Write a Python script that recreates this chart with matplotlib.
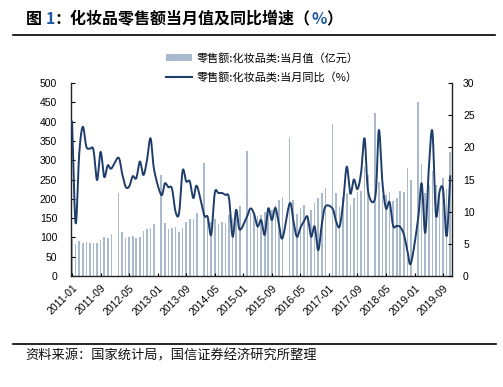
import numpy as np
import pandas as pd
import matplotlib
matplotlib.use('Agg')
import matplotlib.pyplot as plt
from matplotlib.patches import Patch
from matplotlib.lines import Line2D

plt.rcParams['font.family'] = ['Liberation Sans', 'Noto Sans CJK SC', 'DejaVu Sans']
CJK = ['Noto Sans CJK SC', 'DejaVu Sans']

# months 2011-01 .. 2019-11
months = pd.period_range('2011-01', '2019-11', freq='M').strftime('%Y-%m').tolist()

# 零售额:化妆品类:当月值（亿元）; January is published together with February
sales = [
    95, 84, 90, 85, 88, 86, 85, 85, 93, 100, 98, 110,             # 2011
    None, 214, 115, 99, 102, 104, 99, 101, 116, 121, 124, 135,    # 2012
    None, 262, 138, 122, 124, 128, 114, 124, 141, 148, 148, 162,  # 2013
    None, 292, 145, 140, 148, 136, 141, 138, 158, 150, 171, 182,  # 2014
    None, 324, 167, 158, 155, 158, 165, 175, 170, 185, 197, 204,  # 2015
    None, 357, 197, 160, 175, 184, 154, 171, 188, 201, 214, 227,  # 2016
    None, 395, 214, 178, 205, 214, 184, 201, 218, 220, 283, 262,  # 2017
    None, 421, 244, 207, 210, 217, 195, 201, 220, 217, 279, 248,  # 2018
    None, 452, 290, 215, 235, 272, 235, 228, 253, 225, 320,       # 2019
]

# 零售额:化妆品类:当月同比（%）
yoy = [
    24.0, 8.2, 19.0, 23.2, 20.1, 19.8, 19.6, 14.9, 19.3, 15.4, 17.2, 16.7,   # 2011
    None, 18.4, 16.0, 13.9, 13.9, 15.5, 15.2, 17.8, 15.7, 18.0, 21.4, 16.5,  # 2012
    None, 12.6, 14.4, 13.8, 13.6, 10.0, 9.8, 16.4, 14.7, 14.7, 12.1, 14.0,   # 2013
    None, 9.5, 9.2, 6.4, 12.9, 12.9, 12.9, 12.6, 12.1, 6.1, 10.3, 7.2,       # 2014
    None, 9.2, 10.5, 9.7, 7.7, 8.7, 6.4, 10.5, 8.7, 10.6, 8.0, 5.9,          # 2015
    None, 11.3, 8.7, 6.1, 7.5, 8.5, 9.2, 6.1, 7.7, 4.0, 8.0, 10.8,           # 2016
    None, 10.5, 8.5, 7.7, 11.5, 17.0, 12.8, 15.0, 13.5, 16.0, 21.4, 13.1,    # 2017
    None, 12.3, 22.7, 14.5, 10.5, 11.5, 7.8, 7.8, 7.6, 6.5, 4.0, 2.0,        # 2018
    None, 8.9, 14.4, 6.7, 16.7, 22.5, 9.5, 13.1, 13.4, 6.2, 15.5,           # 2019
]

bar_color = '#A9BACD'
line_color = '#1F3D6B'


def smooth(x, y, n=12):
    # Catmull-Rom curve through the points, like a "smoothed line" chart
    x = np.asarray(x, float)
    y = np.asarray(y, float)
    px = np.concatenate([[2 * x[0] - x[1]], x, [2 * x[-1] - x[-2]]])
    py = np.concatenate([[2 * y[0] - y[1]], y, [2 * y[-1] - y[-2]]])
    t = np.linspace(0, 1, n, endpoint=False)[:, None]
    xs, ys = [], []
    for i in range(1, len(px) - 2):
        for p, out in ((px, xs), (py, ys)):
            p0, p1, p2, p3 = p[i - 1], p[i], p[i + 1], p[i + 2]
            out.append(0.5 * (2 * p1 + (p2 - p0) * t + (2 * p0 - 5 * p1 + 4 * p2 - p3) * t ** 2
                              + (3 * p1 - p0 - 3 * p2 + p3) * t ** 3).ravel())
    xs.append([x[-1]])
    ys.append([y[-1]])
    return np.concatenate(xs), np.concatenate(ys)


idx = np.arange(len(months))
s = pd.Series(sales, dtype=float)
g = pd.Series(yoy, dtype=float)

fig = plt.figure(figsize=(5.03, 3.87), dpi=100)
ax = fig.add_axes([71 / 503, 1 - 276 / 387, 381 / 503, 193 / 387])
ax2 = ax.twinx()

ax.bar(idx[s.notna()], s.dropna(), width=0.45, color=bar_color, linewidth=0)
lx, ly = smooth(idx[g.notna()], g.dropna())
ax2.plot(lx, ly, color=line_color, lw=1.4)

ax.set_xlim(-0.3, len(months) - 0.5)
ax.set_ylim(0, 500)
ax.set_yticks(np.arange(0, 501, 50))
ax2.set_ylim(0, 30)
ax2.set_yticks(np.arange(0, 31, 5))

ticks = idx[::8]
ax.set_xticks(ticks)
ax.set_xticklabels([months[i] for i in ticks], rotation=45, ha='right',
                   rotation_mode='anchor')

for a in (ax, ax2):
    a.spines['top'].set_visible(False)
    for sp in a.spines.values():
        sp.set_color('#222222')
        sp.set_linewidth(1.0)
ax.spines['right'].set_visible(False)
ax2.spines['left'].set_visible(False)
ax2.spines['bottom'].set_visible(False)
ax.tick_params(axis='y', direction='in', length=3, pad=10, labelsize=7.5)
ax.tick_params(axis='x', direction='in', length=2, pad=5, labelsize=7.5)
ax2.tick_params(axis='y', direction='in', length=3, pad=8, labelsize=7.5)

handles = [Patch(facecolor=bar_color, edgecolor='none'),
           Line2D([0], [0], color=line_color, lw=1.5)]
labels = ['零售额:化妆品类:当月值（亿元）', '零售额:化妆品类:当月同比（%）']
fig.legend(handles, labels, loc='upper left', bbox_to_anchor=(160 / 503, 1 - 47 / 387),
           frameon=False, prop={'family': CJK, 'size': 8}, handlelength=2.4,
           handleheight=0.5, handletextpad=0.4, labelspacing=0.75, borderpad=0)

# title with coloured pieces
pieces = [('图 ', 'black'), ('1', '#1F5AA6'), ('：化妆品零售额当月值及同比增速（', 'black'),
          ('%', '#1F5AA6'), ('）', 'black')]
prev = fig.text(26 / 503, 1 - 27 / 387, pieces[0][0], color=pieces[0][1], family=CJK,
                fontsize=11.5, fontweight='bold', va='bottom')
for txt, col in pieces[1:]:
    prev = ax.annotate(txt, xy=(1, 0), xycoords=prev, va='bottom', ha='left', color=col,
                       family=CJK, fontsize=11.5, fontweight='bold', annotation_clip=False)

fig.add_artist(Line2D([13 / 503, 495 / 503], [1 - 35 / 387] * 2, color='black', lw=1.2))
fig.add_artist(Line2D([13 / 503, 496 / 503], [1 - 344 / 387] * 2, color='black', lw=1.2))
fig.text(25 / 503, 1 - 356 / 387, '资料来源：国家统计局，国信证券经济研究所整理', family=CJK,
         fontsize=9.5, va='center', color='#111111')

fig.savefig('out.png', dpi=100)
